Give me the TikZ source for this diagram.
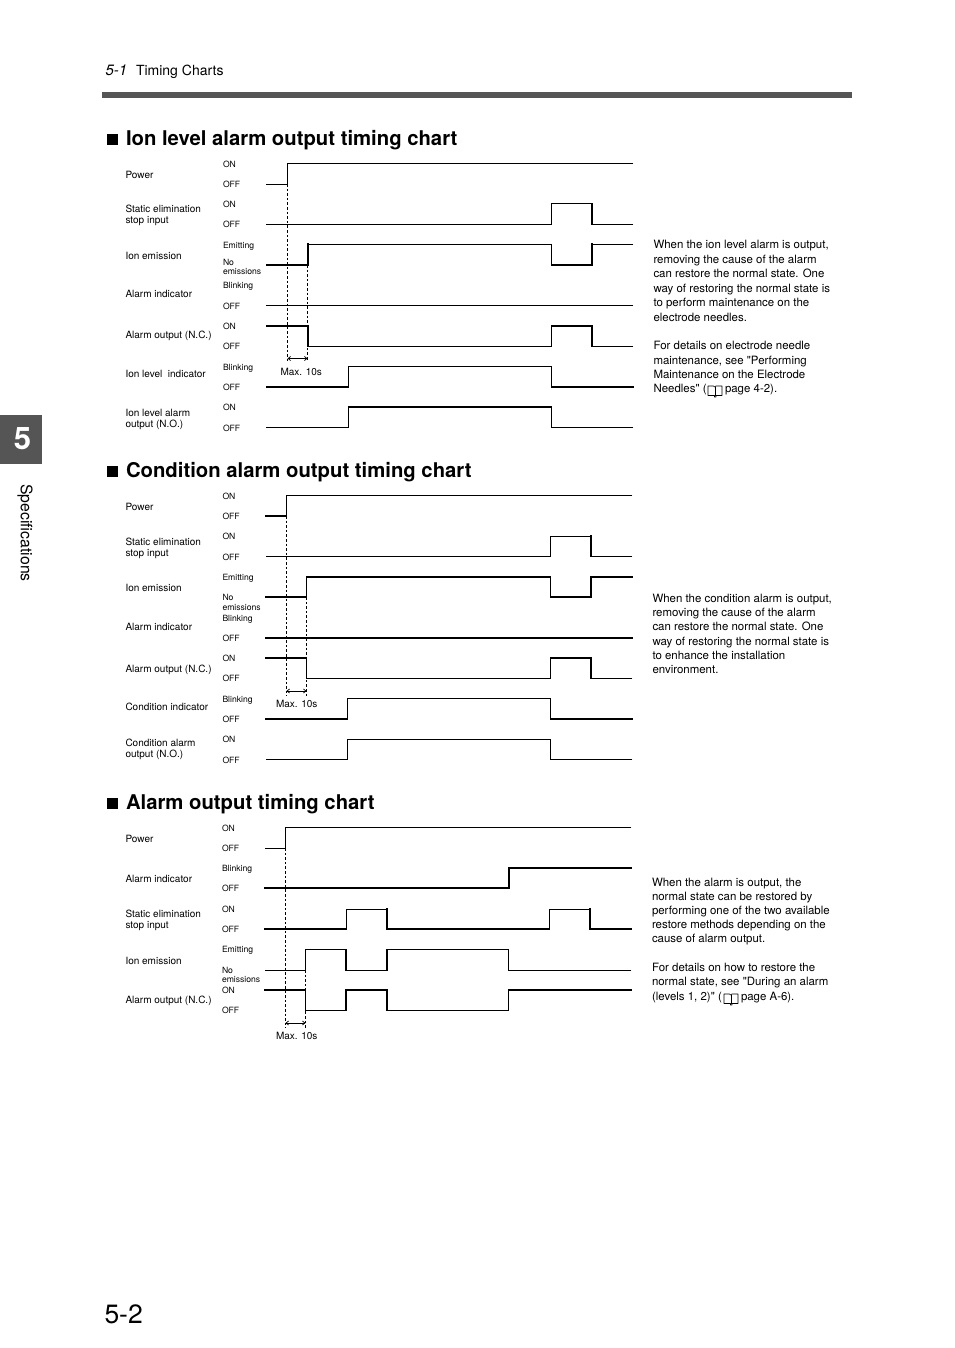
\documentclass[tikz,border=0pt]{standalone}
\usepackage{fontspec}
\setmainfont{TeX Gyre Heros}[Ligatures=TeXOff]
\usetikzlibrary{arrows.meta}
\definecolor{barc}{HTML}{555555}
\newcounter{tn}
\tikzset{
  thn/.style={line width=0.85pt,line cap=rect,line join=miter},
  thk/.style={line width=1.7pt,line cap=rect,line join=miter},
  dsh/.style={line width=0.7pt,dash pattern=on 2.6pt off 2pt},
  dim/.style={line width=0.7pt,{Straight Barb[length=2.5pt,width=4pt]}-{Straight Barb[length=2.5pt,width=4pt]}},
  txt/.style={anchor=base west,inner sep=0pt,outer sep=0pt,text=black},
}
\newcommand{\sm}[3]{\stepcounter{tn}\node[txt,font=\fontsize{8.6}{10}\selectfont] (s\arabic{tn}) at (#1,#2) {#3};}
\newcommand{\lb}[3]{\stepcounter{tn}\node[txt,font=\fontsize{10}{12}\selectfont] (l\arabic{tn}) at (#1,#2) {#3};}
\newcommand{\bd}[3]{\stepcounter{tn}\node[txt,font=\fontsize{11.45}{13}\selectfont] (b\arabic{tn}) at (#1,#2) {#3};}
\newcommand{\ttl}[3]{\stepcounter{tn}\fill (107,#1-11.5) rectangle (118,#1-0.5);
  \node[txt,font=\fontsize{#3}{24}\bfseries\selectfont] (h\arabic{tn}) at (126,#1) {#2};}
\newcommand{\book}[2]{\draw[line width=0.6pt,line join=round] (#1,#2+2) -- ++(0,9.5) -- ++(6.5,0) -- ++(0,1.5) -- ++(1.5,0) -- ++(0,-1.5) -- ++(6,0) -- ++(0,-9.5) -- ++(-6,0) -- ++(-1.5,1) -- ++(-1,-1) -- cycle;
  \draw[line width=0.6pt] (#1+7.2,#2+3) -- ++(0,9);}
\begin{document}
\begin{tikzpicture}[x=1pt,y=-1pt]
\useasboundingbox (0,0) rectangle (954,1348);
\fill[white] (0,0) rectangle (954,1348);
% header
\stepcounter{tn}\node[txt,font=\fontsize{15}{18}\itshape\selectfont] (hd1) at (105.5,76) {5-1};
\node[txt,font=\fontsize{14}{17}\selectfont] (hd2) at (136,76) {Timing Charts};
\fill[barc] (102,92) rectangle (852,98);
\fill[barc] (0,415) rectangle (42,464);
\node[font=\fontsize{31}{34}\bfseries\selectfont,text=white,inner sep=0pt] (tab) at (22.5,438.5) {5};
\node[font=\fontsize{15.8}{18}\selectfont,rotate=-90,inner sep=0pt] (spec) at (25,533) {Specifications};
\node[txt,font=\fontsize{26.5}{30}\selectfont] (pg) at (104.5,1323) {5-2};

% ===== chart 1 =====
\ttl{145.5}{Ion level alarm output timing chart}{20.3}
\lb{125.5}{178.5}{Power}
\lb{125.5}{213}{Static elimination}\lb{125.5}{224}{stop input}
\lb{125.5}{259.5}{Ion emission}
\lb{125.5}{297.5}{Alarm indicator}
\lb{125.5}{338.5}{Alarm output (N.C.)}
\lb{125.5}{377.5}{Ion level\ \ indicator}
\lb{125.5}{416.5}{Ion level alarm}\lb{125.5}{427.5}{output (N.O.)}
\sm{223}{168}{ON}\sm{223}{188}{OFF}\sm{223}{208}{ON}\sm{223}{228}{OFF}
\sm{223}{248}{Emitting}\sm{223}{265.5}{No}\sm{223}{274.5}{emissions}
\sm{223}{288}{Blinking}\sm{223}{309.5}{OFF}\sm{223}{329}{ON}\sm{223}{349.5}{OFF}
\sm{223}{370}{Blinking}\sm{223}{390.5}{OFF}\sm{223}{410}{ON}\sm{223}{431.5}{OFF}
\lb{280.5}{375}{Max. 10s}
% signals
\draw[thn] (266.5,184) -- (287.5,184) -- (287.5,163) -- (633,163);
\draw[thn] (266.5,224) -- (551.5,224) -- (551.5,203.5);
\draw[thk] (551.5,203.5) -- (592,203.5) -- (592,224);
\draw[thn] (592,224) -- (633,224);
\draw[thk] (266.5,265) -- (308,265) -- (308,244);
\draw[thn] (308,244) -- (551.5,244) -- (551.5,265);
\draw[thk] (551.5,265) -- (592,265) -- (592,244);
\draw[thn] (592,244) -- (633,244);
\draw[thn] (266.5,305.5) -- (633,305.5);
\draw[thk] (266.5,326) -- (308,326) -- (308,346);
\draw[thn] (308,346) -- (551.5,346) -- (551.5,326);
\draw[thk] (551.5,326) -- (592,326) -- (592,346);
\draw[thn] (592,346) -- (633,346);
\draw[thk] (266.5,387) -- (348.5,387);
\draw[thn] (348.5,387) -- (348.5,366.5) -- (551.5,366.5) -- (551.5,387);
\draw[thk] (551.5,387) -- (633,387);
\draw[thn] (266.5,427.5) -- (348.5,427.5) -- (348.5,407);
\draw[thk] (348.5,407) -- (551.5,407);
\draw[thn] (551.5,407) -- (551.5,427.5) -- (633,427.5);
\coordinate (c1a) at (287.5,184); \coordinate (c1b) at (307.5,265);
\coordinate (c1c) at (287.5,361.5); \coordinate (c1d) at (307.5,361.5);
\coordinate (c1e) at (287.5,358.5); \coordinate (c1f) at (307.5,358.5);
\draw[dsh] (c1a) -- (c1c); \draw[dsh] (c1b) -- (c1d);
\draw[dim] (c1e) -- (c1f);
\bd{653.5}{249}{When the ion level alarm is output,}
\bd{653.5}{263}{removing the cause of the alarm}
\bd{653.5}{277.5}{can restore the normal state. One}
\bd{653.5}{292}{way of restoring the normal state is}
\bd{653.5}{306}{to perform maintenance on the}
\bd{653.5}{321}{electrode needles.}
\bd{653.5}{349}{For details on electrode needle}
\bd{653.5}{364}{maintenance, see "Performing}
\bd{653.5}{378}{Maintenance on the Electrode}
\bd{653.5}{392}{Needles" (}
\book{708}{384}
\bd{725}{392}{page 4-2).}

% ===== chart 2 =====
\ttl{477}{Condition alarm output timing chart}{20.3}
\lb{125.5}{510.5}{Power}
\lb{125.5}{545.5}{Static elimination}\lb{125.5}{556.5}{stop input}
\lb{125.5}{591.5}{Ion emission}
\lb{125.5}{630.5}{Alarm indicator}
\lb{125.5}{672.5}{Alarm output (N.C.)}
\lb{125.5}{710.5}{Condition indicator}
\lb{125.5}{746.5}{Condition alarm}\lb{125.5}{757.5}{output (N.O.)}
\sm{222.5}{499}{ON}\sm{222.5}{519}{OFF}\sm{222.5}{539}{ON}\sm{222.5}{560}{OFF}
\sm{222.5}{580}{Emitting}\sm{222.5}{600}{No}\sm{222.5}{610}{emissions}
\sm{222.5}{621}{Blinking}\sm{222.5}{641}{OFF}\sm{222.5}{661}{ON}\sm{222.5}{681}{OFF}
\sm{222.5}{702}{Blinking}\sm{222.5}{722}{OFF}\sm{222.5}{742}{ON}\sm{222.5}{763}{OFF}
\lb{276}{707.5}{Max. 10s}
\draw[thk] (266,516) -- (286.5,516);
\draw[thn] (286.5,516) -- (286.5,495) -- (632,495);
\draw[thn] (266,556.5) -- (550.5,556.5) -- (550.5,536) -- (591,536);
\draw[thk] (591,536) -- (591,556.5);
\draw[thn] (591,556.5) -- (632,556.5);
\draw[thk] (266,597) -- (306.5,597);
\draw[thn] (306.5,597) -- (306.5,577);
\draw[thk] (306.5,577) -- (550.5,577);
\draw[thn] (550.5,577) -- (550.5,597);
\draw[thk] (550.5,597) -- (591,597) -- (591,577) -- (632,577);
\draw[thk] (266,638) -- (632,638);
\draw[thk] (266,658) -- (306.5,658);
\draw[thn] (306.5,658) -- (306.5,678.5) -- (550.5,678.5) -- (550.5,658);
\draw[thk] (550.5,658) -- (591,658) -- (591,678.5);
\draw[thn] (591,678.5) -- (632,678.5);
\draw[thk] (266,719) -- (347.5,719);
\draw[thn] (347.5,719) -- (347.5,698.5) -- (550.5,698.5) -- (550.5,719);
\draw[thk] (550.5,719) -- (632,719);
\draw[thn] (266,759.5) -- (347.5,759.5) -- (347.5,739) -- (550.5,739) -- (550.5,759.5) -- (632,759.5);
\coordinate (c2a) at (286.5,516); \coordinate (c2b) at (306.5,597);
\coordinate (c2c) at (286.5,696); \coordinate (c2d) at (306.5,696);
\coordinate (c2e) at (286.5,691); \coordinate (c2f) at (306.5,691);
\draw[dsh] (c2a) -- (c2c); \draw[dsh] (c2b) -- (c2d);
\draw[dim] (c2e) -- (c2f);
\bd{652.5}{602}{When the condition alarm is output,}
\bd{652.5}{616}{removing the cause of the alarm}
\bd{652.5}{630}{can restore the normal state. One}
\bd{652.5}{645}{way of restoring the normal state is}
\bd{652.5}{659}{to enhance the installation}
\bd{652.5}{673}{environment.}

% ===== chart 3 =====
\ttl{809}{Alarm output timing chart}{20.3}
\lb{125.5}{842.5}{Power}
\lb{125.5}{882.5}{Alarm indicator}
\lb{125.5}{917.5}{Static elimination}\lb{125.5}{928.5}{stop input}
\lb{125.5}{964.5}{Ion emission}
\lb{125.5}{1003.5}{Alarm output (N.C.)}
\sm{222}{831}{ON}\sm{222}{851}{OFF}\sm{222}{871}{Blinking}\sm{222}{891}{OFF}
\sm{222}{912}{ON}\sm{222}{932}{OFF}\sm{222}{952}{Emitting}\sm{222}{973}{No}
\sm{222}{982}{emissions}\sm{222}{993}{ON}\sm{222}{1013}{OFF}
\lb{276}{1039}{Max. 10s}
\draw[thn] (265,848) -- (285.5,848) -- (285.5,827) -- (631,827);
\draw[thk] (265,888) -- (509,888) -- (509,868) -- (631,868);
\draw[thk] (265,929) -- (346,929);
\draw[thn] (346,929) -- (346,909) -- (387,909);
\draw[thk] (387,909) -- (387,929) -- (549.5,929);
\draw[thn] (549.5,929) -- (549.5,909) -- (590,909);
\draw[thk] (590,909) -- (590,929) -- (631,929);
\draw[thn] (265,970) -- (305.5,970) -- (305.5,949.5) -- (346,949.5);
\draw[thk] (346,949.5) -- (346,970);
\draw[thn] (346,970) -- (387,970);
\draw[thk] (387,970) -- (387,949.5);
\draw[thn] (387,949.5) -- (508.5,949.5) -- (508.5,970) -- (631,970);
\draw[thk] (265,990) -- (305.5,990);
\draw[thn] (305.5,990) -- (305.5,1010.5) -- (346,1010.5);
\draw[thk] (346,1010.5) -- (346,990) -- (387,990) -- (387,1010.5);
\draw[thn] (387,1010.5) -- (508.5,1010.5) -- (508.5,990);
\draw[thk] (508.5,990) -- (631,990);
\coordinate (c3a) at (285.5,848); \coordinate (c3b) at (305.5,970);
\coordinate (c3c) at (285.5,1028); \coordinate (c3d) at (305.5,1028);
\coordinate (c3e) at (285.5,1023); \coordinate (c3f) at (305.5,1023);
\draw[dsh] (c3a) -- (c3c); \draw[dsh] (c3b) -- (c3d);
\draw[dim] (c3e) -- (c3f);
\bd{652}{886}{When the alarm is output, the}
\bd{652}{900}{normal state can be restored by}
\bd{652}{914.5}{performing one of the two available}
\bd{652}{928.5}{restore methods depending on the}
\bd{652}{942.5}{cause of alarm output.}
\bd{652}{971}{For details on how to restore the}
\bd{652}{985}{normal state, see "During an alarm}
\bd{652}{1000}{(levels 1, 2)" (}
\book{724}{992}
\bd{741}{1000}{page A-6).}
\end{tikzpicture}
\end{document}
